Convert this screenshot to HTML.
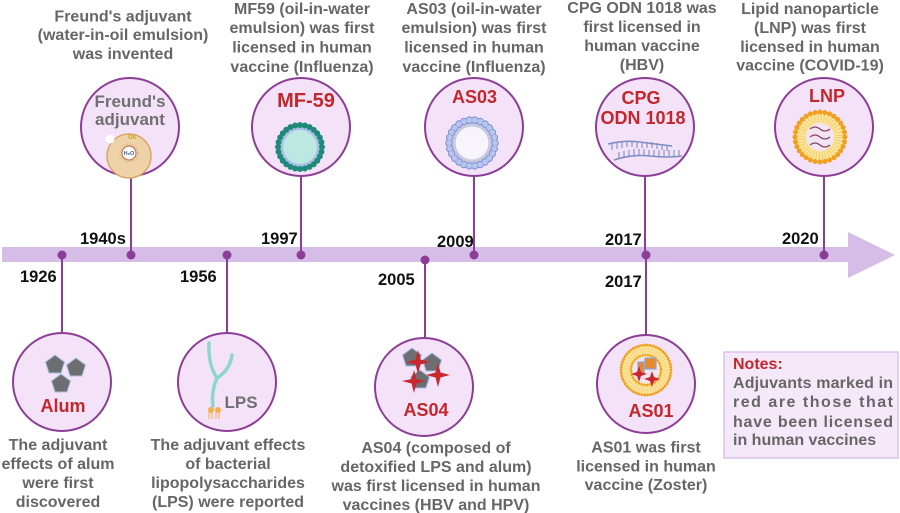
<!DOCTYPE html>
<html><head><meta charset="utf-8"><style>
html,body{margin:0;padding:0;background:#fff;}
svg{display:block;}
.t{font-family:"Liberation Sans",Arial,sans-serif;font-weight:bold;font-size:16px;fill:#666;text-anchor:middle;}
.y{font-family:"Liberation Sans",Arial,sans-serif;font-weight:bold;font-size:16.5px;fill:#111;}
.r{font-family:"Liberation Sans",Arial,sans-serif;font-weight:bold;font-size:18px;fill:#c3272b;text-anchor:middle;}
.g{font-family:"Liberation Sans",Arial,sans-serif;font-weight:bold;font-size:17px;fill:#707070;text-anchor:middle;}
.n{font-family:"Liberation Sans",Arial,sans-serif;font-weight:bold;font-size:16px;fill:#666;}
</style></head><body>
<svg width="900" height="513" viewBox="0 0 900 513" xmlns="http://www.w3.org/2000/svg">
<rect width="900" height="513" fill="#fff"/>
<rect x="2" y="247" width="848" height="15" fill="#d6bde8"/>
<polygon points="848,232 895,255 848,278" fill="#d6bde8"/>

<g stroke="#8c3d96" stroke-width="2">
<line x1="131" y1="176" x2="131" y2="255"/>
<line x1="301" y1="176" x2="301" y2="255"/>
<line x1="474" y1="176" x2="474" y2="255"/>
<line x1="645" y1="176" x2="645" y2="255"/>
<line x1="824" y1="176" x2="824" y2="255"/>
<line x1="62" y1="255" x2="62" y2="333"/>
<line x1="227" y1="255" x2="227" y2="333"/>
<line x1="425" y1="260" x2="425" y2="338"/>
<line x1="646" y1="255" x2="646" y2="335"/>
</g>
<g fill="#8c3d96">
<circle cx="62" cy="255" r="4.5"/><circle cx="131" cy="255" r="4.5"/>
<circle cx="227" cy="255" r="4.5"/><circle cx="301" cy="255" r="4.5"/>
<circle cx="425" cy="260" r="4.5"/><circle cx="474" cy="255" r="4.5"/>
<circle cx="646" cy="255" r="4.5"/><circle cx="824" cy="255" r="4.5"/>
</g>

<g fill="#f4e2f8" stroke="#8c3d96" stroke-width="2">
<circle cx="130" cy="127" r="49"/>
<circle cx="301" cy="127" r="49"/>
<circle cx="474" cy="127" r="49"/>
<circle cx="645" cy="127" r="49"/>
<circle cx="824" cy="127" r="49"/>
<circle cx="62" cy="382" r="49"/>
<circle cx="227" cy="382" r="49"/>
<circle cx="424" cy="387" r="49"/>
<circle cx="646" cy="384" r="49"/>
</g>

<text class="y" x="80" y="244">1940s</text>
<text class="y" x="261" y="244">1997</text>
<text class="y" x="437" y="247">2009</text>
<text class="y" x="605" y="245">2017</text>
<text class="y" x="782" y="244">2020</text>
<text class="y" x="20" y="282">1926</text>
<text class="y" x="180" y="282">1956</text>
<text class="y" x="378" y="285">2005</text>
<text class="y" x="605" y="287">2017</text>

<text class="t" x="123" y="21.5">Freund's adjuvant</text>
<text class="t" x="123" y="40">(water-in-oil emulsion)</text>
<text class="t" x="123" y="59">was invented</text>

<text class="t" x="302" y="14">MF59 (oil-in-water</text>
<text class="t" x="302" y="33">emulsion) was first</text>
<text class="t" x="302" y="52.5">licensed  in human</text>
<text class="t" x="302" y="72">vaccine (Influenza)</text>

<text class="t" x="474" y="14">AS03 (oil-in-water</text>
<text class="t" x="474" y="33">emulsion) was first</text>
<text class="t" x="474" y="52.5">licensed  in human</text>
<text class="t" x="474" y="72">vaccine (Influenza)</text>

<text class="t" x="642" y="13">CPG ODN 1018 was</text>
<text class="t" x="642" y="32">first licensed in</text>
<text class="t" x="642" y="51">human vaccine</text>
<text class="t" x="642" y="70">(HBV)</text>

<text class="t" x="810" y="14">Lipid nanoparticle</text>
<text class="t" x="810" y="33">(LNP) was first</text>
<text class="t" x="810" y="52">licensed in human</text>
<text class="t" x="810" y="70.5">vaccine (COVID-19)</text>

<text class="t" x="58" y="450">The adjuvant</text>
<text class="t" x="58" y="469">effects of alum</text>
<text class="t" x="58" y="488">were first</text>
<text class="t" x="58" y="507">discovered</text>

<text class="t" x="228" y="450">The adjuvant effects</text>
<text class="t" x="228" y="469">of bacterial</text>
<text class="t" x="228" y="488">lipopolysaccharides</text>
<text class="t" x="228" y="507">(LPS) were reported</text>

<text class="t" x="436" y="453">AS04 (composed of</text>
<text class="t" x="436" y="472">detoxified LPS and alum)</text>
<text class="t" x="436" y="491">was first licensed in human</text>
<text class="t" x="436" y="510">vaccines (HBV and HPV)</text>

<text class="t" x="646" y="452.5">AS01 was first</text>
<text class="t" x="646" y="471.5">licensed  in human</text>
<text class="t" x="646" y="490">vaccine (Zoster)</text>

<rect x="724" y="352" width="174" height="106" fill="#f5e8f9" stroke="#dcc3ea" stroke-width="1.5"/>
<text class="n" x="733" y="369" style="fill:#c3272b">Notes:</text>
<text class="n" x="733" y="388" textLength="160" lengthAdjust="spacing">Adjuvants marked in</text>
<text class="n" x="733" y="407" textLength="160" lengthAdjust="spacing">red are those that</text>
<text class="n" x="733" y="427" textLength="160" lengthAdjust="spacing">have been licensed</text>
<text class="n" x="733" y="445">in human vaccines</text>

<text class="g" x="130" y="107">Freund's</text>
<text class="g" x="130" y="125">adjuvant</text>
<text class="r" x="306" y="107" style="font-size:20px">MF-59</text>
<text class="r" x="474.5" y="103">AS03</text>
<text class="r" x="641" y="104">CPG</text>
<text class="r" x="643" y="124">ODN 1018</text>
<text class="r" x="827" y="102">LNP</text>
<text class="r" x="63" y="412">Alum</text>
<text class="g" x="241" y="408">LPS</text>
<text class="r" x="426" y="416">AS04</text>
<text class="r" x="651" y="417">AS01</text>

<circle cx="129" cy="156" r="22" fill="#efd3a8" stroke="#d8a96c" stroke-width="1.5"/>
<circle cx="110" cy="139" r="4.5" fill="#fff"/>
<circle cx="129" cy="153" r="9" fill="none" stroke="#e0b98a" stroke-width="2" stroke-dasharray="1 1.5"/>
<circle cx="129" cy="153" r="7" fill="#fff" stroke="#c07a5a" stroke-width="1.2"/>
<text x="129" y="155" style="font-family:'Liberation Sans',sans-serif;font-size:5.5px;font-weight:bold;fill:#3b5c9c;text-anchor:middle">H₂O</text>
<text x="132" y="139" style="font-family:'Liberation Sans',sans-serif;font-size:6px;font-weight:bold;fill:#c9a126;text-anchor:middle">Oil</text>

<circle cx="300" cy="147" r="21" fill="#a9bfe6"/>
<circle cx="300" cy="147" r="17" fill="#bde7e1"/>
<circle cx="300" cy="147" r="22" fill="none" stroke="#1f8a7a" stroke-width="6" stroke-linecap="round" stroke-dasharray="0 4.93"/>

<circle cx="472" cy="143" r="20" fill="#c8c8e0"/>
<circle cx="472" cy="143" r="16.5" fill="#f8f4fb"/>
<circle cx="472" cy="143" r="23" fill="none" stroke="#7f92d4" stroke-width="7.5" stroke-linecap="round" stroke-dasharray="0 5.55"/>
<circle cx="472" cy="143" r="23" fill="none" stroke="#b7c5ef" stroke-width="5.5" stroke-linecap="round" stroke-dasharray="0 5.55"/>

<g fill="none" stroke="#7d8ec4" stroke-width="1.6">
<path d="M608,144 Q625,140 640,142 T672,146"/>
<path d="M614,160 Q632,154 650,156 T682,156"/>
<path d="M612,144v6 M617,143v6 M622,142v6 M627,141v6 M632,141v6 M637,142v6 M642,142v6 M647,142v6 M652,142v6 M657,143v6 M662,144v6 M667,145v6" stroke-width="1.1"/>
<path d="M619,158v-6 M624,157v-6 M629,156v-6 M634,155v-6 M639,155v-6 M644,155v-6 M649,156v-6 M654,156v-6 M659,156v-6 M664,156v-6 M669,156v-6 M674,156v-6 M679,156v-6" stroke-width="1.1"/>
</g>

<circle cx="820" cy="137" r="25" fill="#f9e6a6"/>
<circle cx="820" cy="137" r="19" fill="none" stroke="#f6cd5a" stroke-width="9" stroke-dasharray="1 2"/>
<circle cx="820" cy="137" r="14" fill="#f3e4f2"/>
<circle cx="820" cy="137" r="25" fill="none" stroke="#eea01e" stroke-width="5" stroke-linecap="round" stroke-dasharray="0 4.9"/>
<g fill="none" stroke="#8a4a6a" stroke-width="1.3">
<path d="M810,129 q5,-4 10,0 t10,0"/>
<path d="M810,137 q5,-4 10,0 t10,0"/>
<path d="M810,145 q5,-4 10,0 t10,0"/>
</g>

<g fill="#6d6e72" stroke="#a9c1e2" stroke-width="1">
<polygon points="55,355 64.5,362 61,373 49,373 45.5,362"/>
<polygon points="76,358 85.5,365 82,376 70,376 66.5,365"/>
<polygon points="61,374 70.5,381 67,392 55,392 51.5,381"/>
</g>

<g fill="none" stroke="#8cd7cd" stroke-width="3.5" stroke-linecap="round">
<path d="M209,343 Q208,365 217,378"/>
<path d="M232,355 Q230,370 217,378"/>
<path d="M217,378 Q211,392 213,406"/>
</g>
<g fill="#f3b04a"><circle cx="211" cy="410" r="3"/><circle cx="218" cy="410" r="3"/></g>
<g stroke="#f3b04a" stroke-width="1"><path d="M209,412v7 M212,412v7 M216,412v7 M219,412v7"/></g>

<g fill="#6d6e72" stroke="#a9c1e2" stroke-width="1">
<polygon points="412,348 421.5,355 418,366 406,366 402.5,355"/>
<polygon points="432,353 441.5,360 438,371 426,371 422.5,360"/>
<polygon points="420,370 429.5,377 426,388 414,388 410.5,377"/>
</g>
<g fill="#c8282d">
<path d="M418,350 L420.5,359.5 L430,362 L420.5,364.5 L418,374 L415.5,364.5 L406,362 L415.5,359.5Z"/>
<path d="M438,363 L440.5,372.5 L450,375 L440.5,377.5 L438,387 L435.5,377.5 L426,375 L435.5,372.5Z"/>
<path d="M414,370 L416.5,379 L426,381 L416.5,383.5 L414,393 L411.5,383.5 L402,381 L411.5,379Z"/>
</g>

<circle cx="646" cy="370" r="25" fill="#f9e2a0"/>
<circle cx="646" cy="370" r="19.5" fill="none" stroke="#f7d876" stroke-width="7" stroke-dasharray="1 1.6"/>
<circle cx="646" cy="370" r="25" fill="none" stroke="#eea01e" stroke-width="2.8" stroke-linecap="round" stroke-dasharray="0 2.9"/>
<circle cx="646" cy="370" r="15" fill="none" stroke="#eea01e" stroke-width="2.5" stroke-linecap="round" stroke-dasharray="0 2.8"/>
<circle cx="646" cy="370" r="13.5" fill="#f3e4f2"/>
<rect x="645" y="358" width="11" height="11" fill="#e88a2a" stroke="#8fa6dc" stroke-width="1.2"/>
<rect x="638" y="362" width="6" height="11" fill="#e88a2a" stroke="#8fa6dc" stroke-width="1.2"/>
<g fill="#c8282d">
<path d="M639,366 L641,372 L647,374 L641,376 L639,382 L637,376 L631,374 L637,372Z"/>
<path d="M652,371 L654,377 L660,379 L654,381 L652,387 L650,381 L644,379 L650,377Z"/>
</g>
</svg>
</body></html>
